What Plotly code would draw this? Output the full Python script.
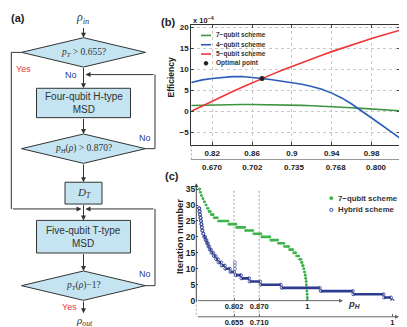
import plotly.graph_objects as go

W, H = 407, 327

# ---------- (b) efficiency vs p_H  (values in units of 1e-4) ----------
ph_grid = [0.799, 0.81, 0.82, 0.83, 0.84, 0.85, 0.86, 0.87, 0.88, 0.89, 0.90,
           0.91, 0.92, 0.93, 0.94, 0.95, 0.96, 0.97, 0.98, 0.99, 1.0, 1.008]
eff_7q = [1.40, 1.48, 1.55, 1.59, 1.62, 1.64, 1.65, 1.64, 1.61, 1.56, 1.50,
          1.43, 1.35, 1.26, 1.15, 1.01, 0.86, 0.71, 0.56, 0.41, 0.26, 0.15]
eff_4q = [6.9, 7.5, 7.85, 8.12, 8.27, 8.3, 8.12, 7.85, 7.55, 7.22, 6.85,
          6.45, 5.95, 5.25, 4.35, 3.2, 1.75, 0.15, -1.55, -3.25, -4.95, -6.3]
eff_5q = [0.0, 1.29, 2.44, 3.56, 4.66, 5.73, 6.8, 7.85, 8.82, 9.78, 10.72,
          11.63, 12.53, 13.40, 14.24, 15.06, 15.85, 16.62, 17.36, 18.08, 18.77, 19.31]
opt_ph = [0.870]
opt_eff = [7.85]

ph_ticks = [0.82, 0.86, 0.90, 0.94, 0.98]
ph_ticktext = ["0.82", "0.86", "0.9", "0.94", "0.98"]
pt_ticks = [0.670, 0.702, 0.735, 0.768, 0.800]
pt_ticktext = ["0.670", "0.702", "0.735", "0.768", "0.800"]
eff_ticks = [-5, 0, 5, 10, 15, 20]
eff_ticktext = ["\u22125", "0", "5", "10", "15", "20"]

# ---------- (c) iteration number ----------
q7_level = [35, 34, 33, 32, 31, 30, 29, 28, 27, 26, 25, 24, 23, 22, 21, 20, 19, 18,
            17, 16, 15, 14, 13, 12, 11, 10, 9, 8, 7, 6, 5, 4, 3, 2, 1, 0]
q7_ph_start = [0.709, 0.711, 0.714, 0.718, 0.722, 0.726, 0.730, 0.734, 0.740, 0.748,
               0.760, 0.788, 0.809, 0.833, 0.855, 0.877, 0.901, 0.922, 0.938, 0.952,
               0.963, 0.971, 0.979, 0.984, 0.987, 0.990, 0.992, 0.994, 0.996, 0.997,
               0.9975, 0.998, 0.999, 0.9995, 1.0, 1.0]
q7_ph_end = [0.709, 0.711, 0.714, 0.718, 0.722, 0.727, 0.732, 0.738, 0.746, 0.757,
             0.786, 0.807, 0.831, 0.853, 0.875, 0.899, 0.920, 0.937, 0.950, 0.961,
             0.969, 0.977, 0.983, 0.986, 0.989, 0.991, 0.993, 0.995, 0.996, 0.997,
             0.9975, 0.998, 0.999, 0.9995, 1.0, 1.0]

hyb_level = [29, 28, 27, 26, 25, 24, 23, 22, 21, 20, 19, 18, 17, 16, 15, 14, 13, 12,
             11, 10, 9, 8, 7, 6, 5, 4, 3, 2, 1, 0]
hyb_pt_start = [0.579, 0.580, 0.581, 0.582, 0.583, 0.584, 0.585, 0.586, 0.588, 0.590,
                0.593, 0.596, 0.599, 0.602, 0.606, 0.611, 0.616, 0.621, 0.628, 0.636,
                0.647, 0.659, 0.671, 0.689, 0.713, 0.759, 0.844, 0.915, 0.982, 1.0]
hyb_pt_end = [0.579, 0.580, 0.581, 0.582, 0.583, 0.584, 0.585, 0.586, 0.588, 0.592,
              0.595, 0.598, 0.601, 0.605, 0.610, 0.615, 0.620, 0.627, 0.635, 0.646,
              0.655, 0.670, 0.688, 0.712, 0.757, 0.842, 0.914, 0.981, 0.997, 1.0]
hyb_jump_pt = [0.657, 0.657, 0.657]
hyb_jump_level = [12, 11, 10]

iter_ticks = [0, 5, 10, 15, 20, 25, 30, 35]
c_ph_ticks = [0.802, 0.870, 1.0]
c_ph_ticktext = ["0.802", "0.870", "1"]
c_pt_ticks = [0.655, 0.710, 1.0]
c_pt_ticktext = ["0.655", "0.710", "1"]


# ── helpers (pixel -> paper) ─────────────────────────────────
def px(x):
    return x / W


def py(y):
    return 1 - y / H


SANS = "Liberation Sans"
SERIF = "Liberation Serif"
INK = "#333333"
BOX = "#c3e4f0"
RED_T = "#e8393f"
BLUE_T = "#2b3c95"
G_B, B_B, R_B = "#3f9440", "#2a5cb8", "#f03535"
G_C, B_C = "#3cb44b", "#2d3b8e"

shapes, notes = [], []


def seg(x0, y0, x1, y1, color=INK, width=1, dash=None):
    shapes.append(dict(type="line", xref="paper", yref="paper",
                       x0=px(x0), y0=py(y0), x1=px(x1), y1=py(y1),
                       line=dict(color=color, width=width, dash=dash)))


def arrow(x0, y0, x1, y1, color=INK, size=1.0, width=1):
    notes.append(dict(xref="paper", yref="paper", x=px(x1), y=py(y1),
                      ax=x0 - x1, ay=y0 - y1, axref="pixel", ayref="pixel",
                      text="", showarrow=True, arrowhead=2, arrowsize=size,
                      arrowwidth=width, arrowcolor=color))


def label(x, y, text, size=9, color=INK, family=SANS, bold=False, anchor="center", angle=0):
    notes.append(dict(xref="paper", yref="paper", x=px(x), y=py(y), text=text,
                      showarrow=False, xanchor=anchor, yanchor="middle", textangle=angle,
                      borderpad=0,
                      font=dict(family=family, size=size, color=color,
                                weight="bold" if bold else "normal")))


def dot(x, y, r, fill, line_color=None):
    shapes.append(dict(type="circle", xref="paper", yref="paper",
                       x0=px(x - r), x1=px(x + r), y0=py(y + r), y1=py(y - r),
                       fillcolor=fill, line=dict(color=line_color or fill, width=1)))


def steps(starts, ends, levels):
    xs, ys = [], []
    for s, e, lv in zip(starts, ends, levels):
        xs += [s, e, None]
        ys += [lv, lv, None]
    return xs, ys


# ── (a) flowchart ────────────────────────────────────────────
CX = 75.5


def diamond(cy, text):
    l, r, t, b = CX - 62, CX + 62, cy - 15, cy + 15
    shapes.append(dict(type="path", xref="paper", yref="paper",
                       path=f"M{px(l)},{py(cy)} L{px(CX)},{py(t)} L{px(r)},{py(cy)} L{px(CX)},{py(b)} Z",
                       fillcolor=BOX, line=dict(color=INK, width=1)))
    label(CX, cy, text, size=9.5, family=SERIF)


def box(x0, y0, x1, y1, text, size=10, family=SANS):
    shapes.append(dict(type="rect", xref="paper", yref="paper",
                       x0=px(x0), x1=px(x1), y0=py(y1), y1=py(y0),
                       fillcolor=BOX, line=dict(color=INK, width=1)))
    label((x0 + x1) / 2, (y0 + y1) / 2, text, size=size, family=family)


label(10, 8, "(a)", size=11, bold=True, color="#222")
label(CX - 1, 8, "<i>ρ</i><sub><i>in</i></sub>", size=12, family=SERIF)
arrow(CX, 17, CX, 28.3)
diamond(43.3, "<i>p</i><sub><i>T</i></sub> > 0.655?")
arrow(CX, 58.3, CX, 80)
box(CX - 47, 80, CX + 47, 110, "Four-qubit H-type<br>MSD")
arrow(CX, 110, CX, 126.7)
diamond(141.7, "<i>p<sub>H</sub></i>(<i>ρ</i>) > 0.870?")
arrow(CX, 156.7, CX, 176)
box(CX - 18.5, 176, CX + 18.5, 198.3, "<i>D</i><sub><i>T</i></sub>", size=11, family=SERIF)
arrow(CX, 198.3, CX, 215)
box(CX - 47, 215, CX + 47, 248.3, "Five-qubit T-type<br>MSD")
arrow(CX, 248.3, CX, 266.7)
diamond(281.7, "<i>p<sub>T</sub></i>(<i>ρ</i>)\u22121?")
arrow(CX, 296.7, CX, 310)
label(CX + 0.5, 317.5, "<i>ρ</i><sub><i>out</i></sub>", size=11, family=SERIF)

# Yes branch of first test
seg(CX - 62, 43.3, 3.3, 43.3)
seg(3.3, 43.3, 3.3, 203.3)
arrow(3.3, 203.3, CX - 2, 203.3)
# feedback loops
seg(CX + 62, 141.7, 147, 141.7)
seg(147, 141.7, 147, 66)
arrow(147, 66, CX + 2, 66)
seg(CX + 62, 281.7, 147, 281.7)
seg(147, 281.7, 147, 203.3)
arrow(147, 203.3, CX + 2, 203.3)

label(15, 60, "Yes", color=RED_T)
label(62.5, 66, "No", color=BLUE_T)
label(136.5, 131, "No", color=BLUE_T)
label(137, 270, "No", color=BLUE_T)
label(61.7, 304, "Yes", color=RED_T)

# ── figure ───────────────────────────────────────────────────
fig = go.Figure()

# (b)
fig.add_trace(go.Scatter(x=ph_grid, y=eff_7q, mode="lines", line=dict(color=G_B, width=1.6),
                         xaxis="x", yaxis="y", showlegend=False))
fig.add_trace(go.Scatter(x=ph_grid, y=eff_4q, mode="lines", line=dict(color=B_B, width=1.6),
                         xaxis="x", yaxis="y", showlegend=False))
fig.add_trace(go.Scatter(x=ph_grid, y=eff_5q, mode="lines", line=dict(color=R_B, width=1.6),
                         xaxis="x", yaxis="y", showlegend=False))
fig.add_trace(go.Scatter(x=opt_ph, y=opt_eff, mode="markers", marker=dict(color="#222", size=5),
                         xaxis="x", yaxis="y", showlegend=False))
fig.add_trace(go.Scatter(x=pt_ticks, y=[None] * len(pt_ticks), mode="markers",
                         xaxis="x2", yaxis="y", showlegend=False, hoverinfo="skip"))

# (c)
gx, gy = steps(q7_ph_start, q7_ph_end, q7_level)
fig.add_trace(go.Scatter(x=gx, y=gy, mode="lines+markers", line=dict(color=G_C, width=2.6),
                         marker=dict(color=G_C, size=2.6),
                         xaxis="x3", yaxis="y3", showlegend=False))
hx, hy = steps(hyb_pt_start, hyb_pt_end, hyb_level)
fig.add_trace(go.Scatter(x=hx, y=hy, mode="lines+markers", line=dict(color=B_C, width=2.6),
                         marker=dict(color=B_C, size=3, symbol="circle-open", line=dict(width=0.8)),
                         xaxis="x4", yaxis="y3", showlegend=False))
fig.add_trace(go.Scatter(x=hyb_jump_pt, y=hyb_jump_level, mode="markers",
                         marker=dict(color="#6070b8", size=3, symbol="circle-open", line=dict(width=0.8)),
                         xaxis="x4", yaxis="y3", showlegend=False))

tickfont_b = dict(family=SANS, size=8, color="#222", weight="bold")
tickfont_c = dict(family=SANS, size=7.5, color="#222", weight="bold")

# panel (b) extras
label(159.5, 12, "(b)", size=11, bold=True, color="#222")
label(163, 69, "Efficiency", size=8.5, bold=True, angle=-90, color="#222")
label(184, 10, "x 10<sup>\u22124</sup>", size=7.5, bold=True, anchor="left", color="#222")
# axis names p_H / p_T drawn as letter + lowered small letter
label(393, 141, "p", size=8, anchor="left")
label(397.5, 144.5, "H", size=5.5, anchor="left")
label(393, 155.5, "p", size=8, anchor="left")
label(397.5, 159, "T", size=5.5, anchor="left")
seg(183.3, 138.3, 183.3, 152.5, color="#999", width=0.8, dash="2px,2px")
seg(392, 138.3, 392, 155, color="#999", width=0.8, dash="2px,2px")
for y, col, name in [(26, G_B, "7\u2212qubit scheme"), (35.5, B_B, "4\u2212qubit scheme"),
                     (45, R_B, "5\u2212qubit scheme")]:
    seg(193, y, 203, y, color=col, width=1.6)
    label(206.5, y, name, size=6.5, bold=True, anchor="left")
dot(198, 54.5, 1.8, "#222")
label(206.5, 54.5, "Optimal point", size=6.5, bold=True, anchor="left")

# panel (c) extras
PT_Y = 313.5
label(164, 170, "(c)", size=11, bold=True, color="#222")
label(171, 232, "Iteration number", size=9.5, bold=True, angle=-90, color="#222")
arrow(188.3, 297, 188.3, 177, color="#444", size=0.8)
arrow(188.3, 297, 335, 297, color="#666", size=0.8)
arrow(188.3, PT_Y, 391, PT_Y, color="#666", size=0.8)
seg(188.3, 297, 188.3, PT_Y, color="#999", width=0.8, dash="2px,2px")
label(339, 300, "<b><i>p<sub>H</sub></i></b>", size=9.5, anchor="left")
label(392.5, 316, "<b><i>p</i></b>", size=9, anchor="left")
label(397.5, 319.5, "<b><i>T</i></b>", size=6, anchor="left")
for v in [0.802, 0.870]:
    shapes.append(dict(type="line", xref="x3", yref="paper", x0=v, x1=v,
                       y0=py(PT_Y), y1=py(183),
                       line=dict(color="#888", width=0.8, dash="2px,2px")))
dot(323.3, 192.3, 1.5, G_C)
label(329, 192.3, "7\u2212qubit scheme", size=7.8, bold=True, anchor="left")
dot(323.3, 204.3, 1.6, "white", line_color="#3a4ba0")
label(329, 204.3, "Hybrid scheme", size=7.8, bold=True, anchor="left")

fig.update_layout(
    width=W, height=H, autosize=False,
    margin=dict(l=0, r=0, t=0, b=0),
    paper_bgcolor="white", plot_bgcolor="white",
    showlegend=False,
    xaxis=dict(domain=[px(183.3), px(392)], anchor="y", range=[0.799, 1.0085],
               tickvals=ph_ticks, ticktext=ph_ticktext, ticks="inside", ticklen=3,
               tickcolor="#444", showline=True, linecolor="#333", linewidth=1, mirror="ticks",
               showgrid=True, gridcolor="#c8c8c8", griddash="dot", zeroline=False,
               tickfont=tickfont_b),
    yaxis=dict(domain=[py(138.3), py(15.7)], anchor="x", range=[-8.1, 20.5],
               tickvals=eff_ticks, ticktext=eff_ticktext, ticks="inside", ticklen=3,
               tickcolor="#444", showline=True, linecolor="#333", linewidth=1, mirror="ticks",
               showgrid=True, gridcolor="#c8c8c8", griddash="dot", zeroline=False,
               tickfont=tickfont_b),
    xaxis2=dict(overlaying="x", anchor="free", position=py(152.5), side="bottom",
                range=[0.6536, 0.819], tickvals=pt_ticks, ticktext=pt_ticktext,
                ticks="", showline=True, linecolor="#999", linewidth=0.8,
                showgrid=False, zeroline=False, tickfont=tickfont_b),
    xaxis3=dict(domain=[px(188.3), px(400)], anchor="y3", range=[0.700, 1.2722],
                tickvals=c_ph_ticks, ticktext=c_ph_ticktext, ticks="inside", ticklen=3,
                tickcolor="#666", showline=False, showgrid=False, zeroline=False,
                tickfont=tickfont_c),
    xaxis4=dict(overlaying="x3", anchor="free", position=py(PT_Y), side="bottom",
                range=[0.5728, 1.0342], tickvals=c_pt_ticks, ticktext=c_pt_ticktext,
                ticks="inside", ticklen=3, tickcolor="#666", showline=False,
                showgrid=False, zeroline=False, tickfont=tickfont_c),
    yaxis3=dict(domain=[py(297), py(177)], anchor="x3", range=[0, 36.84],
                tickvals=iter_ticks, ticks="inside", ticklen=2, tickcolor="#444",
                showline=False, showgrid=False, zeroline=False,
                tickfont=dict(family=SANS, size=8.5, color="#222", weight="bold")),
    shapes=shapes,
    annotations=notes,
)

fig.write_html("out.html")
